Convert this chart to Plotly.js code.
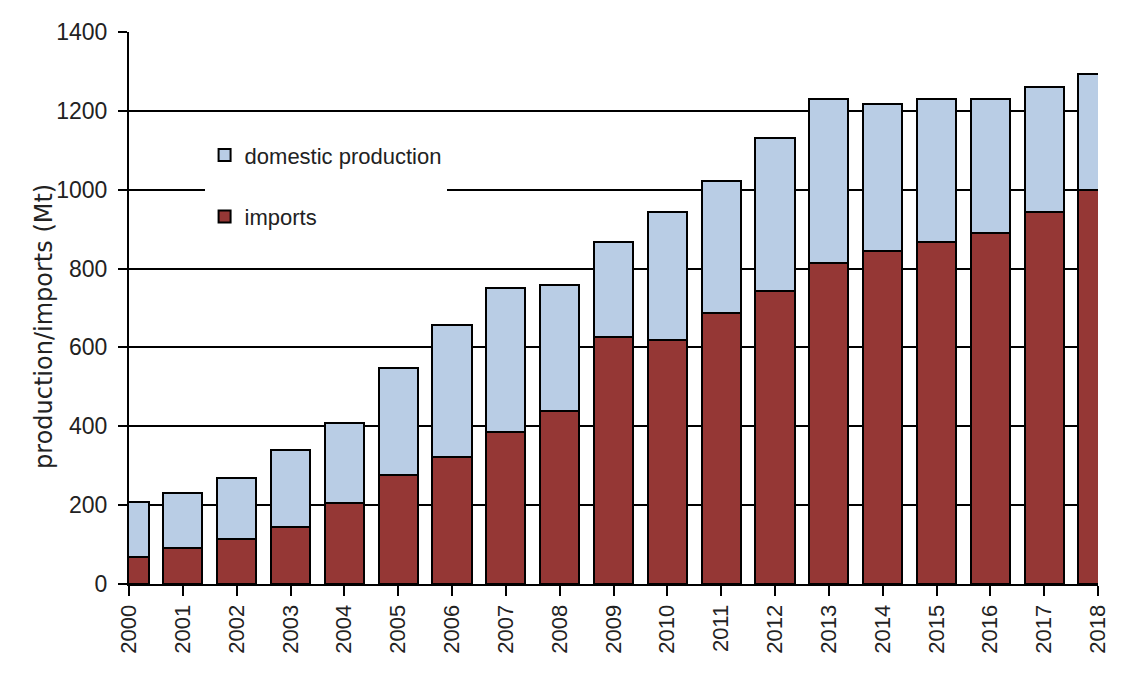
<!DOCTYPE html>
<html>
<head>
<meta charset="utf-8">
<script src="https://cdn.plot.ly/plotly-3.0.1.min.js"></script>
<style>html,body{margin:0;padding:0;background:#fff;}#chart{width:1122px;height:698px;}</style>
</head>
<body>
<div id="chart"></div>
<script>
const years = [2000,2001,2002,2003,2004,2005,2006,2007,2008,2009,2010,2011,2012,2013,2014,2015,2016,2017,2018];
const yearLabels = years.map(String);
const imports = [68,91,114,145,206,277,322,386,439,626,619,687,742,814,845,867,890,943,999];
const totals = [207,231,269,340,408,548,657,751,758,867,943,1022,1131,1230,1217,1230,1230,1260,1293];
const domestic = totals.map((t,i)=>t-imports[i]);
const yTicks = [0,200,400,600,800,1000,1200,1400];
const yTitle = 'production/imports (Mt)';

const FONT = '"Liberation Sans", Arial, sans-serif';
const VFONT = '"DejaVu Sans", "Liberation Sans", sans-serif';

const traces = [
  {type:'bar', name:'imports', x:years, y:imports, width:0.73, legendgroup:'imp', legendrank:2,
   marker:{color:'#953735', line:{color:'#000', width:2}}},
  {type:'bar', name:'domestic production', x:years, y:domestic, width:0.73, legendgroup:'dom', legendrank:1,
   marker:{color:'#B9CDE5', line:{color:'#000', width:2}}}
];

const layout = {
  width:1122, height:698,
  margin:{l:129, r:24, t:32, b:114},
  paper_bgcolor:'#fff', plot_bgcolor:'#fff',
  barmode:'stack',
  showlegend:true,
  legend:{x:0.078, y:0.815, xanchor:'left', yanchor:'top', bgcolor:'#fff',
          traceorder:'grouped', tracegroupgap:30,
          font:{family:FONT, size:22, color:'#222'}, itemwidth:30},
  xaxis:{range:[2000,2018], tickvals:years, ticktext:yearLabels, tickangle:-90,
         showgrid:false, zeroline:false, showline:true, linecolor:'#000', linewidth:2,
         ticks:'outside', ticklen:10, tickwidth:2, tickcolor:'#000',
         tickfont:{family:FONT, size:22, color:'#222'}},
  yaxis:{range:[0,1400], tickvals:yTicks, ticktext:yTicks.map(String),
         showgrid:true, gridcolor:'#000', gridwidth:2, zeroline:false,
         showline:true, linecolor:'#000', linewidth:2,
         ticks:'outside', ticklen:9, tickwidth:2, tickcolor:'#000', ticklabelstandoff:6,
         tickfont:{family:FONT, size:23, color:'#222'}},
  annotations:[{text:yTitle, xref:'paper', yref:'paper', x:-0.088, y:0.467,
                xanchor:'center', yanchor:'middle', textangle:-90, showarrow:false,
                font:{family:VFONT, size:24, color:'#222'}}]
};

Plotly.newPlot('chart', traces, layout, {displayModeBar:false, staticPlot:true});
</script>
</body>
</html>
